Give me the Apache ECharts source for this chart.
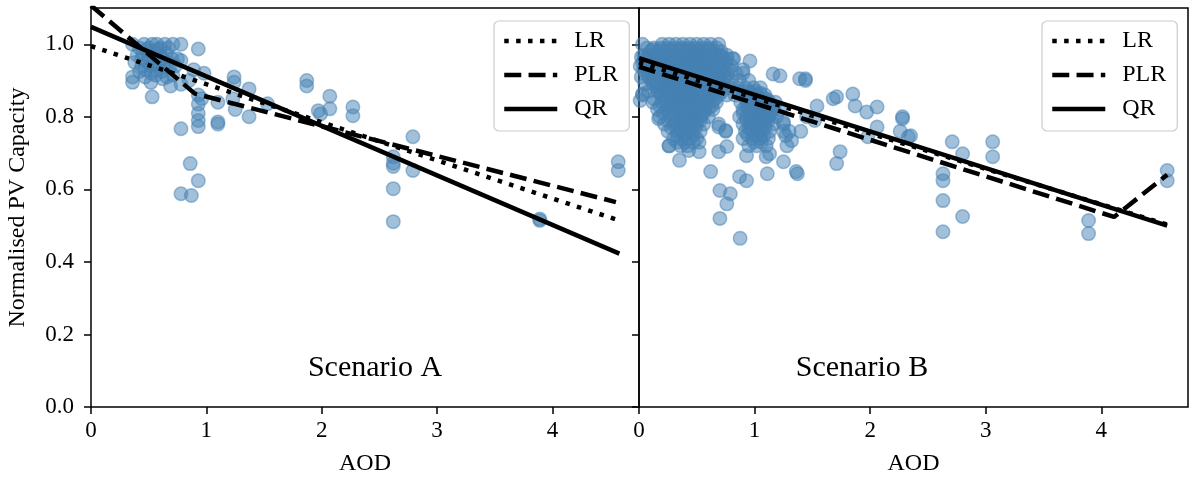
<!DOCTYPE html>
<html>
<head>
<meta charset="utf-8">
<script src="https://cdn.jsdelivr.net/npm/echarts@6/dist/echarts.min.js"></script>
<style>
  html, body { margin: 0; padding: 0; background: #fff; }
  #chart { width: 1189px; height: 481px; }
</style>
</head>
<body>
<div id="chart"></div>
<script>
// Observations: [AOD, normalised PV capacity]
const scenarioA = [
  [0.36,1.00],[0.42,0.99],[0.46,1.00],[0.50,0.99],[0.53,1.00],[0.57,1.00],[0.60,0.99],[0.64,1.00],
  [0.67,0.99],[0.71,1.00],[0.78,1.00],[0.93,0.987],
  [0.40,0.97],[0.45,0.975],[0.50,0.965],[0.55,0.98],[0.60,0.97],[0.65,0.975],[0.70,0.96],[0.75,0.96],
  [0.48,0.985],[0.58,0.985],[0.62,0.96],[0.52,0.94],[0.44,0.96],[0.67,0.95],[0.57,0.93],[0.47,0.91],[0.62,0.905],
  [0.38,0.95],[0.44,0.94],[0.49,0.95],[0.54,0.945],[0.59,0.95],[0.63,0.94],[0.68,0.935],[0.73,0.94],[0.78,0.955],
  [0.42,0.925],[0.47,0.93],[0.52,0.92],[0.56,0.915],[0.61,0.925],[0.66,0.91],[0.71,0.915],
  [0.36,0.91],[0.36,0.895],[0.52,0.895],[0.53,0.855],[0.69,0.885],[0.78,0.89],[0.89,0.93],[0.98,0.92],[0.85,0.90],
  [0.93,0.86],[0.93,0.835],[0.93,0.81],[0.93,0.79],[0.93,0.773],[0.96,0.85],
  [1.10,0.84],[1.10,0.786],[1.10,0.78],[1.24,0.91],[1.24,0.895],[1.23,0.85],[1.25,0.82],
  [1.37,0.877],[1.37,0.80],[1.53,0.836],
  [0.78,0.767],[0.86,0.671],[0.93,0.624],[0.78,0.588],[0.87,0.583],
  [1.87,0.90],[1.87,0.885],[1.97,0.817],[1.99,0.808],[2.07,0.857],[2.07,0.822],[2.27,0.827],[2.27,0.803],
  [2.62,0.69],[2.62,0.672],[2.62,0.663],[2.62,0.602],[2.62,0.511],[2.79,0.745],[2.79,0.652],
  [3.89,0.514],[3.89,0.518],[4.57,0.676],[4.57,0.652]
];

const scenarioB = [
  // main cluster, low AOD
  [0.03,1.00],[0.20,1.00],[0.26,1.00],[0.32,1.00],[0.38,1.00],[0.44,1.00],[0.50,1.00],[0.56,1.00],[0.62,1.00],[0.69,1.00],
  [0.07,0.99],[0.13,0.99],[0.19,0.99],[0.25,0.99],[0.31,0.99],[0.37,0.99],[0.43,0.99],[0.49,0.99],[0.55,0.99],[0.61,0.99],[0.67,0.99],
  [0.10,0.98],[0.16,0.98],[0.23,0.98],[0.29,0.98],[0.35,0.98],[0.41,0.98],[0.47,0.98],[0.53,0.98],[0.59,0.98],[0.65,0.98],[0.71,0.98],
  [0.04,0.97],[0.10,0.97],[0.16,0.97],[0.22,0.97],[0.28,0.97],[0.34,0.97],[0.40,0.97],[0.46,0.97],[0.52,0.97],[0.58,0.97],[0.64,0.97],[0.70,0.97],[0.76,0.97],
  [0.05,0.96],[0.13,0.96],[0.20,0.96],[0.27,0.96],[0.33,0.96],[0.40,0.96],[0.46,0.96],[0.52,0.96],[0.58,0.96],[0.64,0.96],[0.70,0.96],[0.76,0.96],[0.82,0.96],
  [0.03,0.95],[0.09,0.95],[0.15,0.95],[0.21,0.95],[0.27,0.95],[0.33,0.95],[0.39,0.95],[0.45,0.95],[0.51,0.95],[0.57,0.95],[0.63,0.95],[0.69,0.95],[0.75,0.95],
  [0.01,0.94],[0.09,0.94],[0.17,0.94],[0.24,0.94],[0.30,0.94],[0.37,0.94],[0.43,0.94],[0.49,0.94],[0.55,0.94],[0.61,0.94],[0.67,0.94],[0.73,0.94],[0.80,0.94],
  [0.04,0.93],[0.10,0.93],[0.16,0.93],[0.22,0.93],[0.28,0.93],[0.34,0.93],[0.40,0.93],[0.46,0.93],[0.52,0.93],[0.58,0.93],[0.64,0.93],[0.70,0.93],[0.78,0.93],
  [0.06,0.92],[0.14,0.92],[0.21,0.92],[0.28,0.92],[0.34,0.92],[0.40,0.92],[0.46,0.92],[0.52,0.92],[0.58,0.92],[0.65,0.92],[0.71,0.92],[0.77,0.92],[0.84,0.92],[0.90,0.92],
  [0.02,0.91],[0.08,0.91],[0.15,0.91],[0.21,0.91],[0.27,0.91],[0.33,0.91],[0.39,0.91],[0.45,0.91],[0.51,0.91],[0.57,0.91],[0.63,0.91],[0.69,0.91],[0.75,0.91],
  [0.11,0.90],[0.18,0.90],[0.25,0.90],[0.31,0.90],[0.38,0.90],[0.44,0.90],[0.50,0.90],[0.56,0.90],[0.62,0.90],[0.68,0.90],[0.74,0.90],[0.80,0.90],[0.87,0.90],[0.95,0.90],
  [0.05,0.89],[0.12,0.89],[0.19,0.89],[0.25,0.89],[0.31,0.89],[0.37,0.89],[0.43,0.89],[0.49,0.89],[0.55,0.89],[0.61,0.89],[0.67,0.89],[0.73,0.89],
  [0.15,0.88],[0.22,0.88],[0.29,0.88],[0.35,0.88],[0.41,0.88],[0.47,0.88],[0.53,0.88],[0.59,0.88],[0.66,0.88],[0.72,0.88],[0.78,0.88],[0.85,0.88],[0.92,0.88],[0.99,0.88],[1.05,0.88],
  [0.08,0.87],[0.16,0.87],[0.23,0.87],[0.29,0.87],[0.35,0.87],[0.41,0.87],[0.47,0.87],[0.53,0.87],[0.60,0.87],[0.66,0.87],[0.72,0.87],[0.87,0.87],[0.95,0.87],[1.01,0.87],
  [0.03,0.86],[0.19,0.86],[0.26,0.86],[0.32,0.86],[0.38,0.86],[0.44,0.86],[0.50,0.86],[0.57,0.86],[0.63,0.86],[0.69,0.86],[0.76,0.86],[0.83,0.86],[0.90,0.86],[0.96,0.86],[1.02,0.86],[1.09,0.86],
  [0.13,0.85],[0.22,0.85],[0.29,0.85],[0.35,0.85],[0.41,0.85],[0.47,0.85],[0.53,0.85],[0.60,0.85],[0.66,0.85],[0.92,0.85],[0.98,0.85],[1.04,0.85],[1.10,0.85],
  [0.12,0.84],[0.20,0.84],[0.28,0.84],[0.35,0.84],[0.41,0.84],[0.47,0.84],[0.54,0.84],[0.60,0.84],[0.67,0.84],[0.88,0.84],[0.94,0.84],[1.00,0.84],[1.06,0.84],[1.12,0.84],[1.18,0.84],
  [0.18,0.83],[0.25,0.83],[0.31,0.83],[0.38,0.83],[0.44,0.83],[0.50,0.83],[0.57,0.83],[0.63,0.83],[0.93,0.83],[0.99,0.83],[1.05,0.83],[1.11,0.83],[1.17,0.83],
  [0.16,0.82],[0.24,0.82],[0.31,0.82],[0.38,0.82],[0.44,0.82],[0.50,0.82],[0.57,0.82],[0.64,0.82],[0.90,0.82],[0.97,0.82],[1.03,0.82],[1.09,0.82],[1.15,0.82],[1.22,0.82],
  [0.21,0.81],[0.29,0.81],[0.36,0.81],[0.43,0.81],[0.49,0.81],[0.56,0.81],[0.90,0.81],[0.96,0.81],[1.02,0.81],[1.09,0.81],[1.15,0.81],
  [0.18,0.80],[0.27,0.80],[0.34,0.80],[0.40,0.80],[0.47,0.80],[0.53,0.80],[0.60,0.80],[0.87,0.80],[0.93,0.80],[1.00,0.80],[1.06,0.80],[1.12,0.80],[1.19,0.80],
  [0.25,0.79],[0.33,0.79],[0.40,0.79],[0.46,0.79],[0.53,0.79],[0.93,0.79],[0.99,0.79],[1.06,0.79],[1.12,0.79],
  [0.22,0.78],[0.30,0.78],[0.37,0.78],[0.43,0.78],[0.50,0.78],[0.56,0.78],[0.69,0.78],[0.90,0.78],[0.96,0.78],[1.03,0.78],[1.09,0.78],[1.16,0.78],[1.25,0.78],
  [0.28,0.77],[0.36,0.77],[0.43,0.77],[0.49,0.77],[0.95,0.77],[1.02,0.77],[1.09,0.77],
  [0.25,0.76],[0.33,0.76],[0.40,0.76],[0.46,0.76],[0.53,0.76],[0.75,0.76],[0.92,0.76],[0.99,0.76],[1.06,0.76],[1.13,0.76],[1.25,0.76],
  [0.33,0.75],[0.40,0.75],[0.47,0.75],[0.94,0.75],[1.01,0.75],[1.08,0.75],
  [0.30,0.74],[0.37,0.74],[0.44,0.74],[0.50,0.74],[0.90,0.74],[0.98,0.74],[1.05,0.74],[1.12,0.74],[1.32,0.734],
  [0.33,0.73],[0.40,0.73],[0.47,0.73],[0.99,0.73],[1.06,0.73],
  [0.26,0.72],[0.36,0.72],[0.42,0.72],[0.76,0.718],[0.95,0.72],[1.02,0.72],[1.10,0.72],
  [0.43,0.707],[0.52,0.704],[0.69,0.704],[0.93,0.693],[1.10,0.69],[1.13,0.698],[0.35,0.68],
  // densest part of the cluster
  [0.12,0.985],[0.20,0.985],[0.28,0.985],[0.36,0.985],[0.44,0.985],[0.52,0.985],[0.60,0.985],
  [0.08,0.965],[0.16,0.965],[0.24,0.965],[0.32,0.965],[0.40,0.965],[0.48,0.965],[0.56,0.965],[0.64,0.965],[0.72,0.965],
  [0.12,0.945],[0.20,0.945],[0.28,0.945],[0.36,0.945],[0.44,0.945],[0.52,0.945],[0.60,0.945],[0.68,0.945],
  [0.08,0.925],[0.16,0.925],[0.24,0.925],[0.32,0.925],[0.40,0.925],[0.48,0.925],[0.56,0.925],[0.64,0.925],[0.72,0.925],
  [0.12,0.905],[0.20,0.905],[0.28,0.905],[0.36,0.905],[0.44,0.905],[0.52,0.905],[0.60,0.905],[0.68,0.905],
  [0.16,0.885],[0.24,0.885],[0.32,0.885],[0.40,0.885],[0.48,0.885],[0.56,0.885],[0.64,0.885],
  [0.20,0.865],[0.28,0.865],[0.36,0.865],[0.44,0.865],[0.52,0.865],[0.60,0.865],[0.97,0.865],[1.05,0.865],
  [0.24,0.845],[0.32,0.845],[0.40,0.845],[0.48,0.845],[0.56,0.845],[0.64,0.845],[0.96,0.845],[1.04,0.845],[1.12,0.845],
  [0.28,0.825],[0.36,0.825],[0.44,0.825],[0.52,0.825],[0.60,0.825],[0.95,0.825],[1.03,0.825],[1.11,0.825],
  [0.30,0.805],[0.38,0.805],[0.46,0.805],[0.54,0.805],[0.97,0.805],[1.05,0.805],[1.13,0.805],
  [0.32,0.785],[0.40,0.785],[0.48,0.785],[0.98,0.785],[1.06,0.785],
  [0.36,0.765],[0.44,0.765],[0.97,0.765],[1.04,0.765],
  // left edge
  [0.02,0.965],[0.03,0.863],[0.01,0.845],[0.15,0.896],[0.17,0.795],
  // spread to the right of the main cluster
  [0.96,0.954],[0.81,0.96],[0.90,0.93],[1.16,0.918],[1.22,0.913],[1.39,0.905],[1.44,0.905],[1.44,0.90],
  [1.54,0.83],[1.68,0.85],[1.71,0.855],[1.85,0.863],[1.87,0.83],[1.97,0.813],[2.06,0.827],
  [2.28,0.795],[2.28,0.80],[2.26,0.76],[2.35,0.748],[2.33,0.745],[2.06,0.772],[1.98,0.745],
  [1.74,0.704],[1.71,0.671],[1.25,0.676],[1.37,0.643],[1.11,0.643],[1.28,0.72],[1.25,0.786],[1.30,0.76],
  [1.27,0.748],[1.36,0.649],[1.45,0.80],[1.52,0.79],[1.40,0.76],[0.75,0.762],[0.69,0.772],[0.52,0.73],[0.26,0.72],
  [0.62,0.649],[0.87,0.635],[0.93,0.624],[0.70,0.597],[0.79,0.588],[0.70,0.52],[0.76,0.56],[0.875,0.465],
  // high-AOD observations
  [2.71,0.731],[2.80,0.698],[3.06,0.731],[3.06,0.69],[2.63,0.643],[2.63,0.624],[2.63,0.569],[2.80,0.525],[2.63,0.483],
  [3.89,0.514],[3.89,0.478],[4.57,0.652],[4.57,0.624]
];

// Fitted models: linear (LR), piecewise linear (PLR), quantile (QR)
const lrA  = [[0, 0.995], [4.57, 0.515]];
const plrA = [[0, 1.107], [0.90, 0.864], [4.55, 0.565]];
const qrA  = [[0, 1.048], [4.58, 0.423]];

const lrB  = [[0, 0.950], [4.57, 0.503]];
const plrB = [[0, 0.938], [4.11, 0.524], [4.57, 0.640]];
const qrB  = [[0, 0.962], [4.57, 0.500]];

const xTicks = [0, 1, 2, 3, 4];
const yTicks = [0, 0.2, 0.4, 0.6, 0.8, 1.0];
const panelTitles = ['Scenario A', 'Scenario B'];

const SERIF = '"Liberation Serif", "Times New Roman", serif';
const POINT_FILL = 'rgba(70,130,180,0.5)';
const DOT = [4.5, 7.4];
const DASH = [17, 7.3];

function xAxisFor(gridIndex) {
  return {
    type: 'value', gridIndex, min: 0, max: 4.75,
    name: 'AOD', nameLocation: 'middle', nameGap: 45,
    nameTextStyle: { fontFamily: SERIF, fontSize: 24, color: '#000' },
    axisLine: { show: false },
    axisTick: { show: true, inside: false, length: 7, lineStyle: { color: '#000', width: 1.5 }, customValues: xTicks },
    axisLabel: { fontFamily: SERIF, fontSize: 23, color: '#000', margin: 12, customValues: xTicks,
                 formatter: v => String(Math.round(v)) },
    splitLine: { show: false }
  };
}

function yAxisFor(gridIndex, withLabels) {
  return {
    type: 'value', gridIndex, min: 0, max: 1.1,
    name: withLabels ? 'Normalised PV Capacity' : '',
    nameLocation: 'middle', nameGap: 61, nameRotate: 90,
    nameTextStyle: { fontFamily: SERIF, fontSize: 24, color: '#000' },
    axisLine: { show: false },
    axisTick: { show: true, inside: false, length: 7, lineStyle: { color: '#000', width: 1.5 }, customValues: yTicks },
    axisLabel: { show: withLabels, fontFamily: SERIF, fontSize: 23, color: '#000', margin: 17, customValues: yTicks,
                 formatter: v => v.toFixed(1) },
    splitLine: { show: false }
  };
}

function scatterFor(idx, data) {
  return {
    type: 'scatter', xAxisIndex: idx, yAxisIndex: idx, data,
    symbol: 'circle', symbolSize: 13.5, silent: true, z: 2,
    itemStyle: { color: POINT_FILL, borderColor: POINT_FILL, borderWidth: 1.5, opacity: 1 }
  };
}

function fitLine(idx, name, data, dash) {
  return {
    type: 'line', name, xAxisIndex: idx, yAxisIndex: idx, data,
    symbol: 'none', silent: true, z: 3, clip: true,
    color: '#000',
    itemStyle: { color: 'rgba(0,0,0,0)', opacity: 0 },
    lineStyle: { color: '#000', width: 4.5, type: dash, cap: 'butt' }
  };
}

function legendFor(left) {
  return {
    data: ['LR', 'PLR', 'QR'], orient: 'vertical', left, top: 21,
    itemWidth: 53, itemHeight: 14, itemGap: 10,
    padding: [8, 11, 10, 8],
    backgroundColor: 'rgba(255,255,255,0.8)', borderColor: '#cccccc', borderWidth: 1.2, borderRadius: 5,
    selectedMode: false,
    itemStyle: { color: 'rgba(0,0,0,0)', borderColor: 'rgba(0,0,0,0)', borderWidth: 0, opacity: 0 },
    lineStyle: { width: 4.5, color: '#000', opacity: 1 },
    textStyle: { fontFamily: SERIF, fontSize: 24, color: '#000', padding: [0, 0, 0, 12] }
  };
}

function panelTitle(x, text) {
  return {
    type: 'text', x, y: 368, z: 10,
    style: { text, fontFamily: SERIF, fontSize: 30, fill: '#000', align: 'center', verticalAlign: 'middle' }
  };
}

const chart = echarts.init(document.getElementById('chart'), null, { renderer: 'canvas' });
chart.setOption({
  animation: false,
  backgroundColor: '#fff',
  grid: [
    { left: 91, top: 8, width: 548, height: 401, show: true, borderColor: '#000', borderWidth: 1.5, backgroundColor: 'transparent' },
    { left: 639, top: 8, width: 549, height: 401, show: true, borderColor: '#000', borderWidth: 1.5, backgroundColor: 'transparent' }
  ],
  xAxis: [xAxisFor(0), xAxisFor(1)],
  yAxis: [yAxisFor(0, true), yAxisFor(1, false)],
  legend: [legendFor(494), legendFor(1042)],
  graphic: [panelTitle(375, panelTitles[0]), panelTitle(862, panelTitles[1])],
  series: [
    scatterFor(0, scenarioA),
    fitLine(0, 'LR', lrA, DOT),
    fitLine(0, 'PLR', plrA, DASH),
    fitLine(0, 'QR', qrA, 'solid'),
    scatterFor(1, scenarioB),
    fitLine(1, 'LR', lrB, DOT),
    fitLine(1, 'PLR', plrB, DASH),
    fitLine(1, 'QR', qrB, 'solid')
  ]
});
</script>
</body>
</html>
